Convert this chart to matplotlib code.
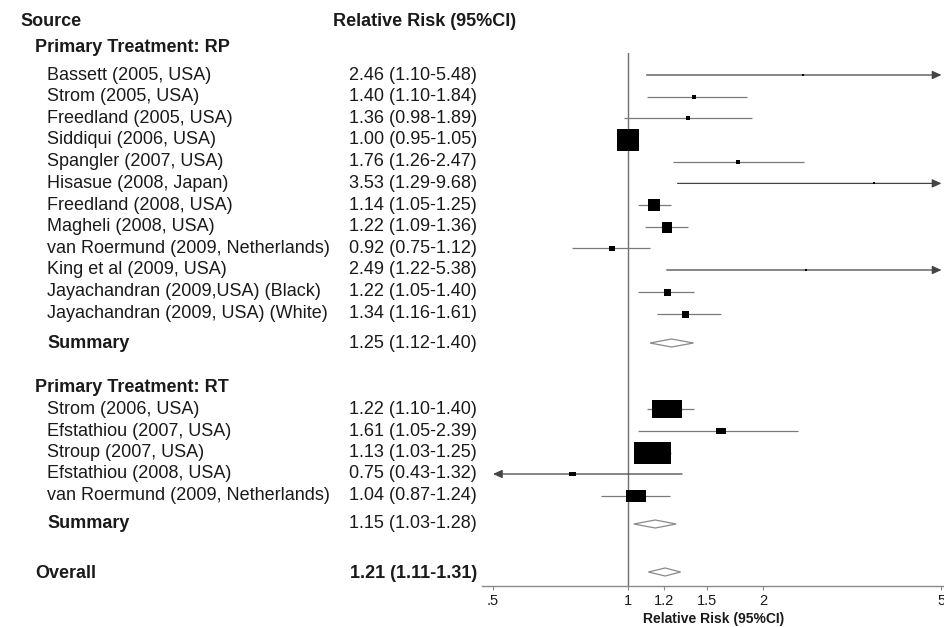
import matplotlib
matplotlib.use("Agg")
import matplotlib.pyplot as plt
from matplotlib.transforms import blended_transform_factory
from matplotlib.patches import Polygon

# ---------------- data ----------------
rp_names = ["Bassett (2005, USA)", "Strom (2005, USA)", "Freedland (2005, USA)",
            "Siddiqui (2006, USA)", "Spangler (2007, USA)", "Hisasue (2008, Japan)",
            "Freedland (2008, USA)", "Magheli (2008, USA)",
            "van Roermund (2009, Netherlands)", "King et al (2009, USA)",
            "Jayachandran (2009,USA) (Black)", "Jayachandran (2009, USA) (White)"]
rp_rr = [2.46, 1.40, 1.36, 1.00, 1.76, 3.53, 1.14, 1.22, 0.92, 2.49, 1.22, 1.34]
rp_lo = [1.10, 1.10, 0.98, 0.95, 1.26, 1.29, 1.05, 1.09, 0.75, 1.22, 1.05, 1.16]
rp_hi = [5.48, 1.84, 1.89, 1.05, 2.47, 9.68, 1.25, 1.36, 1.12, 5.38, 1.40, 1.61]
rp_summary = [1.25, 1.12, 1.40]

rt_names = ["Strom (2006, USA)", "Efstathiou (2007, USA)", "Stroup (2007, USA)",
            "Efstathiou (2008, USA)", "van Roermund (2009, Netherlands)"]
rt_rr = [1.22, 1.61, 1.13, 0.75, 1.04]
rt_lo = [1.10, 1.05, 1.03, 0.43, 0.87]
rt_hi = [1.40, 2.39, 1.25, 1.32, 1.24]
rt_summary = [1.15, 1.03, 1.28]

overall = [1.21, 1.11, 1.31]

tick_vals = [0.5, 1, 1.2, 1.5, 2, 5]
tick_labels = [".5", "1", "1.2", "1.5", "2", "5"]

# ---------------- layout / styles ----------------
# box sizes (px, width x height) reflecting study weights
rp_box_w = [2, 5, 5, 22, 5, 2, 12, 10, 6, 2, 7, 7]
rp_box_h = [2, 5, 5, 22, 5, 2, 12, 11, 5, 2, 7, 7]
rt_box_w = [30, 10, 37, 7, 20]
rt_box_h = [18, 6, 22, 4, 13]

# vertical row positions in pixel units from the top
rp_y = [75, 96.7, 118.4, 140, 161.7, 183.4, 205, 226.7, 248.4, 270, 292, 313.5]
rp_sum_y = 343
rt_head_y = 388
rp_head_y = 46
rt_y = [409, 431, 452.7, 474, 495.5]
rt_sum_y = 524
overall_y = 572
head_y = 19

W, H = 945, 627
FONT = "Liberation Sans"
TXT = "#1a1a1a"
LINE = "#7a7a7a"

fig = plt.figure(figsize=(W / 100, H / 100), dpi=100)
fig.patch.set_facecolor("white")
ax_left, ax_right = 482, 945
ax_top, ax_bot = 53, 586
ax = fig.add_axes([ax_left / W, (H - ax_bot) / H, (ax_right - ax_left) / W, (ax_bot - ax_top) / H])
ax.set_xscale("log")
x_lo = 10 ** ((ax_left - 628) / 448.5)
x_hi = 10 ** ((ax_right - 628) / 448.5)
ax.set_xlim(x_lo, x_hi)
ax.set_ylim(ax_bot, ax_top)
for s in ["left", "top", "right"]:
    ax.spines[s].set_visible(False)
ax.spines["bottom"].set_color("#8a8a8a")
ax.spines["bottom"].set_linewidth(1.0)
ax.set_yticks([])
ax.set_xticks(tick_vals)
ax.set_xticklabels(tick_labels)
ax.xaxis.set_minor_locator(matplotlib.ticker.NullLocator())
ax.tick_params(axis="x", length=3, width=0.8, color="#8a8a8a", pad=3,
               labelsize=10.5, labelcolor=TXT)
for lab in ax.get_xticklabels():
    lab.set_fontfamily(FONT)
ax.set_xlabel("Relative Risk (95%CI)", fontsize=10, fontweight="bold",
              fontfamily=FONT, color=TXT, labelpad=3)

ax.axvline(1, color="#707070", lw=1.0, zorder=1)

px2pt = 0.72
amin, amax = tick_vals[0], tick_vals[-1]


def draw_study(rr, lo, hi, y, bw, bh):
    l = max(lo, amin)
    h = min(hi, amax)
    if hi > amax:
        ax.annotate("", xy=(amax, y), xytext=(l, y),
                    arrowprops=dict(arrowstyle="-|>,head_length=0.55,head_width=0.25",
                                    color="#444444", lw=0.9, shrinkA=0, shrinkB=0))
    elif lo < amin:
        ax.annotate("", xy=(amin, y), xytext=(h, y),
                    arrowprops=dict(arrowstyle="-|>,head_length=0.55,head_width=0.25",
                                    color="#444444", lw=0.9, shrinkA=0, shrinkB=0))
    else:
        ax.plot([l, h], [y, y], color=LINE, lw=0.9, zorder=2, solid_capstyle="butt")
    verts = [(-bw, -bh), (bw, -bh), (bw, bh), (-bw, bh), (-bw, -bh)]
    ax.plot([rr], [y], marker=verts, markersize=max(bw, bh) * px2pt,
            color="black", mew=0, zorder=3, linestyle="none")


def draw_diamond(vals, y, half_h=4):
    est, lo, hi = vals
    poly = Polygon([(lo, y), (est, y - half_h), (hi, y), (est, y + half_h)],
                   closed=True, facecolor="white", edgecolor="#8a8a8a", lw=0.9, zorder=3)
    ax.add_patch(poly)


for rr, lo, hi, y, bw, bh in zip(rp_rr, rp_lo, rp_hi, rp_y, rp_box_w, rp_box_h):
    draw_study(rr, lo, hi, y, bw, bh)
for rr, lo, hi, y, bw, bh in zip(rt_rr, rt_lo, rt_hi, rt_y, rt_box_w, rt_box_h):
    draw_study(rr, lo, hi, y, bw, bh)
draw_diamond(rp_summary, rp_sum_y)
draw_diamond(rt_summary, rt_sum_y)
draw_diamond(overall, overall_y)

# ---------------- text columns ----------------
tr = blended_transform_factory(fig.transFigure, ax.transData)


def txt(xpx, y, s, bold=False, ha="left", size=13):
    ax.text(xpx / W, y + 2, s, transform=tr, ha=ha, va="center", fontsize=size,
            fontfamily=FONT, fontweight="bold" if bold else "normal",
            color=TXT, clip_on=False)


def fmt(vals):
    return f"{vals[0]:.2f} ({vals[1]:.2f}-{vals[2]:.2f})"


x_head, x_group, x_study, x_ci = 20, 35, 47, 477
txt(x_head, head_y, "Source", bold=True)
txt(333, head_y, "Relative Risk (95%CI)", bold=True)
txt(x_group, rp_head_y, "Primary Treatment: RP", bold=True)
for name, rr, lo, hi, y in zip(rp_names, rp_rr, rp_lo, rp_hi, rp_y):
    txt(x_study, y - 2, name)
    txt(x_ci, y - 2, fmt([rr, lo, hi]), ha="right")
txt(x_study, rp_sum_y - 2, "Summary", bold=True)
txt(x_ci, rp_sum_y - 2, fmt(rp_summary), ha="right")

txt(x_group, rt_head_y - 2, "Primary Treatment: RT", bold=True)
for name, rr, lo, hi, y in zip(rt_names, rt_rr, rt_lo, rt_hi, rt_y):
    txt(x_study, y - 2, name)
    txt(x_ci, y - 2, fmt([rr, lo, hi]), ha="right")
txt(x_study, rt_sum_y - 2, "Summary", bold=True)
txt(x_ci, rt_sum_y - 2, fmt(rt_summary), ha="right")

txt(x_group, overall_y, "Overall", bold=True)
txt(x_ci, overall_y, fmt(overall), bold=True, ha="right")

fig.savefig("out.png", dpi=100, facecolor="white")
